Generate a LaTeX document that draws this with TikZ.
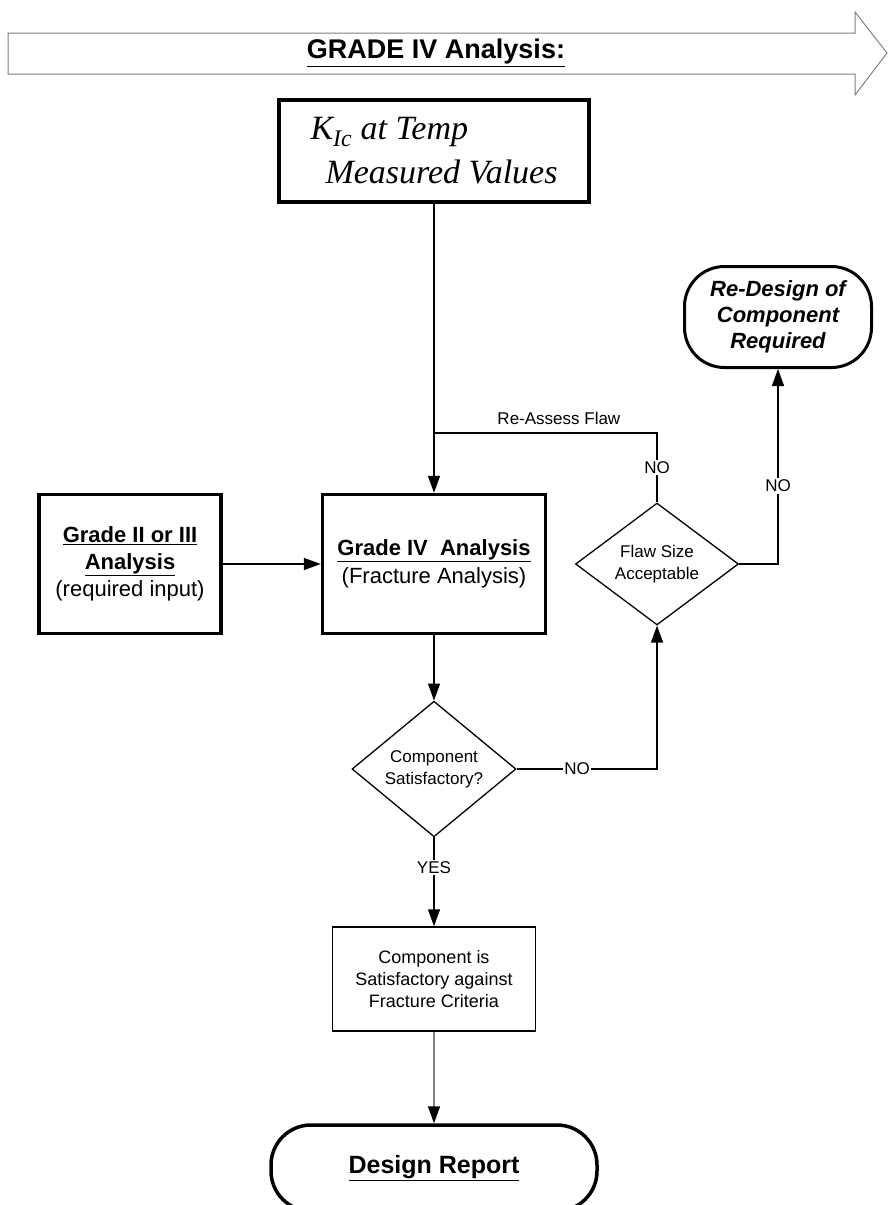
\documentclass[tikz,border=0pt]{standalone}
\usepackage{fontspec}
\setmainfont{Liberation Sans}
\newfontfamily\timesfont{Liberation Serif}
\usetikzlibrary{positioning,shapes.geometric,arrows.meta,calc}

\tikzset{
  thickbox/.style={draw, line width=3.5pt, align=center, inner sep=0pt},
  thinbox/.style={draw, line width=1.5pt, align=center, inner sep=0pt},
  decision/.style={draw, diamond, line width=1.3pt, align=center, inner sep=0pt,
    font=\fontsize{17}{22}\selectfont},
  lbl/.style={fill=white, inner sep=1.5pt, font=\fontsize{17}{20}\selectfont},
  >={Triangle[length=17pt,width=12pt]}
}

\begin{document}
\begin{tikzpicture}[x=1pt,y=-1pt,line width=1.5pt]
  \useasboundingbox (0,0) rectangle (888,1205);
  \clip (0,0) rectangle (888,1205);
  % banner arrow
  \draw[gray,line width=1pt] (8,33) -- (855,33) -- (855,12) -- (887,53) -- (855,95) -- (855,74) -- (8,74) -- cycle;
  \node[font=\fontsize{27}{30}\selectfont\bfseries] (title) at (436,53) {\underline{GRADE IV Analysis:}};

  \node[thickbox,minimum width=310,minimum height=102,align=left,
    font=\timesfont\itshape\fontsize{34}{44}\selectfont] (kic) at (434,151)
    {K\textsubscript{Ic} at Temp\\\hspace*{15pt}Measured Values};
  \node[thickbox,minimum width=182,minimum height=139,font=\fontsize{22}{27}\selectfont] (grade23) at (130,564)
    {\textbf{\underline{Grade II or III}}\\\textbf{\underline{Analysis}}\\(required input)};
  \node[thickbox,minimum width=223,minimum height=139,font=\fontsize{22}{28}\selectfont] (giv) at (434,564)
    {\textbf{\underline{Grade IV\ \ Analysis}}\\(Fracture Analysis)};
  \node[decision,minimum width=164,minimum height=122] (comp) at (434,769) {Component\\Satisfactory?};
  \node[decision,minimum width=163,minimum height=110] (flaw) at (657,564) {Flaw Size\\Acceptable};
  \node[draw,line width=3pt,rounded corners=40,minimum width=187,minimum height=101,align=center,
    font=\fontsize{22}{26}\selectfont\bfseries\itshape] (redesign) at (778,317)
    {Re-Design of\\Component\\Required};
  \node[thinbox,minimum width=203,minimum height=104,font=\fontsize{18}{22}\selectfont] (result) at (434,979)
    {Component is\\Satisfactory against\\Fracture Criteria};
  \node[draw,line width=3.5pt,rounded corners=40,minimum width=326,minimum height=86,
    font=\fontsize{25}{30}\selectfont\bfseries] (report) at (434,1168) {\underline{Design Report}};

  \coordinate (jn) at (434,433);
  \draw[->] (kic.south) -- (giv.north);
  \draw (flaw.north) -- node[lbl,pos=.5] {NO} (flaw.north |- jn) -- node[pos=.44,above=8pt,inner sep=0pt,
    font=\fontsize{17}{20}\selectfont] {Re-Assess Flaw} (jn);
  \draw[->] (grade23) -- (giv);
  \draw[->] (giv) -- (comp);
  \draw[->] (comp.east) -- node[lbl,pos=.43] {NO} (comp.east -| flaw.south) -- (flaw.south);
  \draw[->] (flaw.east) -- (flaw.east -| redesign.south) -- node[lbl,pos=.4] {NO} (redesign.south);
  \draw[->] (comp.south) -- node[lbl,pos=.34] {YES} (result.north);
  \draw[gray,-{Triangle[length=17pt,width=12pt,color=black]}] (result) -- (report);
\end{tikzpicture}
\end{document}
